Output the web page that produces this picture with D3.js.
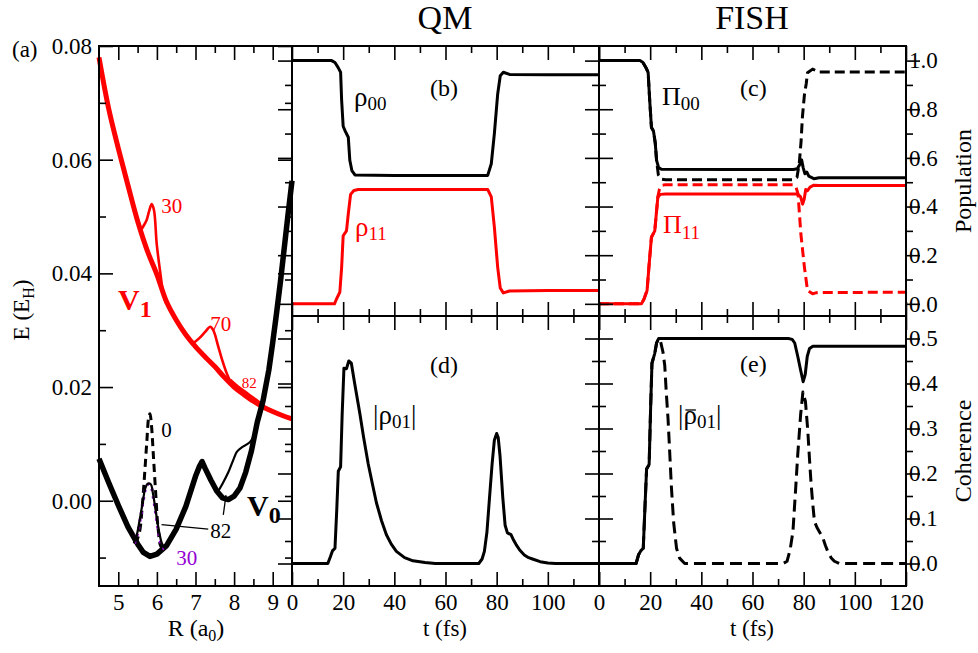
<!DOCTYPE html>
<html>
<head>
<meta charset="utf-8">
<script src="https://cdn.jsdelivr.net/npm/d3@7"></script>
</head>
<body style="margin:0;background:#fff">
<svg id="chart" width="978" height="653" style="display:block"></svg>
<script>
// ---- values ----
// panel (a): potential curves and wave packets, [R (a0), E (EH)]
const v1Curve = [[4.5,0.0780],[4.75,0.0690],[5.0,0.0620],[5.25,0.0555],[5.5,0.0492],[5.75,0.0440],[6.0,0.0398],
  [6.25,0.0350],[6.5,0.0318],[6.75,0.0292],[7.0,0.0271],[7.25,0.0253],[7.5,0.0236],[7.75,0.0217],[8.0,0.0200],
  [8.25,0.0187],[8.5,0.0175],[8.75,0.0165],[9.0,0.0157],[9.25,0.0150],[9.5,0.0144]];
const v0Curve = [[4.5,0.0074],[4.75,0.0032],[5.0,-0.0008],[5.25,-0.0046],[5.5,-0.0076],[5.65,-0.0091],[5.82,-0.0098],
  [6.0,-0.0094],[6.25,-0.0079],[6.5,-0.0050],[6.75,-0.0010],[7.0,0.0043],[7.1,0.0060],[7.17,0.0069],[7.25,0.0057],
  [7.4,0.0036],[7.55,0.0017],[7.7,0.0005],[7.85,0.0002],[8.0,0.0008],[8.15,0.0022],[8.3,0.0050],[8.45,0.0088],
  [8.6,0.0138],[8.75,0.0176],[8.9,0.0230],[9.0,0.0278],[9.1,0.0330],[9.2,0.0385],[9.3,0.0445],[9.4,0.0505],[9.5,0.0563]];
const packetV1t30 = [[5.56,0.0473],[5.64,0.0482],[5.735,0.0494],[5.80,0.0510],[5.865,0.0522],[5.925,0.0511],
  [5.995,0.0452],[6.08,0.0405],[6.166,0.0364],[6.23,0.0348]];
const packetV1t70 = [[6.94,0.0277],[7.10,0.0286],[7.25,0.0297],[7.38,0.0306],[7.46,0.0300],[7.59,0.0271],
  [7.68,0.0250],[7.81,0.0224],[7.91,0.0209]];
const packetV1t82 = [[7.90,0.0213],[8.1,0.0201],[8.3,0.0191],[8.5,0.0181],[8.7,0.0171]];
const packetV0t0 = [[5.45,-0.0076],[5.55,-0.0055],[5.62,-0.0010],[5.68,0.0045],[5.74,0.0105],[5.79,0.0148],
  [5.82,0.0153],[5.86,0.0132],[5.91,0.0078],[5.97,0.0012],[6.03,-0.0048],[6.10,-0.0080],[6.18,-0.0086]];
const packetV0t82a = [[5.40,-0.0075],[5.48,-0.0060],[5.55,-0.0035],[5.62,-0.0008],[5.70,0.0022],[5.76,0.0030],
  [5.84,0.0029],[5.90,0.0012],[5.97,-0.0018],[6.05,-0.0052],[6.13,-0.0075],[6.22,-0.0085]];
const packetV0t82b = [[7.58,0.0016],[7.70,0.0030],[7.85,0.0050],[7.98,0.0072],[8.07,0.0086],[8.20,0.0094],
  [8.33,0.0099],[8.42,0.0104],[8.50,0.0112]];
const packetV0t30 = [[5.42,-0.0075],[5.50,-0.0058],[5.58,-0.0028],[5.65,0.0002],[5.72,0.0024],[5.78,0.0029],
  [5.84,0.0027],[5.90,0.0008],[5.97,-0.0022],[6.04,-0.0055],[6.12,-0.0078],[6.20,-0.0086]];

// panel (b): QM populations, [t (fs), population]
const rho00 = [[0,1.0],[15.5,1.0],[16.8,0.992],[18,0.972],[19,0.952],[19.4,0.837],[20,0.73],[20.8,0.71],[22,0.685],
  [22.6,0.59],[23.4,0.548],[24.6,0.53],[40,0.528],[60,0.528],[76.5,0.528],[77.9,0.576],[79.1,0.70],[80.4,0.863],
  [81.4,0.938],[82.6,0.952],[85,0.943],[100,0.942],[120,0.942]];
const rho11 = [[0,0],[16.6,0],[17.4,0.02],[18.7,0.048],[19.4,0.15],[20,0.28],[21.3,0.30],[22,0.37],[22.9,0.45],
  [24.2,0.466],[25.9,0.47],[60,0.47],[76.5,0.47],[77.9,0.44],[79.1,0.315],[80.4,0.15],[81.4,0.065],[82.6,0.045],
  [85,0.053],[100,0.055],[120,0.055]];

// panel (c): FISH populations
const pi00 = [[0,1.0],[16,1.0],[17.2,0.992],[18.3,0.972],[19.2,0.952],[19.8,0.84],[20.5,0.725],[21.3,0.71],[22,0.66],
  [22.5,0.59],[23.3,0.56],[24.4,0.553],[50,0.552],[76,0.552],[77.5,0.555],[78.6,0.575],[79.2,0.592],[79.8,0.56],
  [80.5,0.535],[81.2,0.542],[82,0.525],[83,0.52],[84,0.514],[86,0.518],[120,0.518]];
const pi00Dash = [[0,1.0],[16,1.0],[17.2,0.992],[18.3,0.972],[19.2,0.952],[19.8,0.84],[20.5,0.725],[21.3,0.71],[22,0.66],
  [22.5,0.59],[23.2,0.53],[24.5,0.512],[26,0.51],[76,0.51],[77.4,0.52],[78.3,0.58],[79,0.67],[79.5,0.767],
  [80.3,0.86],[81,0.905],[81.5,0.95],[83.5,0.965],[86,0.953],[120,0.953]];
const pi11 = [[0,0],[16.6,0],[17.6,0.02],[18.8,0.055],[19.5,0.15],[20.5,0.274],[21.8,0.30],[22.4,0.37],[23,0.438],
  [24,0.45],[26,0.452],[77,0.452],[78,0.448],[78.8,0.44],[79.6,0.41],[80.2,0.43],[80.8,0.47],[81.5,0.465],
  [82.5,0.48],[84,0.488],[86,0.487],[120,0.487]];
const pi11Dash = [[0,0],[16.6,0],[17.6,0.02],[18.8,0.055],[19.5,0.15],[20.5,0.274],[21.8,0.30],[22.4,0.37],[23,0.44],
  [23.6,0.47],[24.5,0.487],[26,0.49],[76,0.49],[77,0.48],[77.8,0.452],[78.9,0.288],[80.3,0.15],[81.5,0.055],
  [83.5,0.041],[85,0.046],[120,0.048]];

// panel (d): QM coherence |rho01|
const absRho01 = [[0,0],[14,0],[15,0.015],[15.8,0.028],[16.8,0.034],[17.5,0.12],[18.1,0.205],[19,0.215],[19.6,0.33],
  [20.3,0.434],[21.3,0.433],[22.2,0.45],[23.2,0.445],[24.5,0.40],[26.5,0.334],[28,0.28],[29.8,0.221],[31.5,0.175],
  [33,0.135],[35,0.095],[36.9,0.064],[38.8,0.043],[40.8,0.027],[44,0.013],[47.3,0.006],[52,0.002],[56,0],[73,0],
  [74.3,0.01],[75.2,0.027],[76.2,0.07],[77.2,0.146],[78.2,0.22],[79.1,0.274],[80,0.289],[80.6,0.28],[81.3,0.24],
  [82.4,0.146],[83.3,0.085],[84.2,0.068],[85.6,0.064],[86.6,0.052],[87.6,0.042],[89,0.03],[90.8,0.019],[92.5,0.013],
  [94,0.01],[97,0.004],[100,0.001],[103,0],[120,0]];

// panel (e): FISH coherences
const fishCohSolid = [[0,0],[14.5,0],[15.5,0.02],[16.3,0.028],[17.3,0.034],[18,0.13],[18.6,0.21],[19.6,0.22],
  [20.2,0.35],[20.7,0.445],[21.8,0.467],[22.5,0.49],[23.3,0.5],[74,0.5],[75.5,0.498],[76.5,0.49],[77.7,0.46],
  [78.8,0.43],[79.8,0.404],[80.6,0.42],[81.4,0.46],[82.3,0.478],[83.6,0.483],[120,0.483]];
const fishCohDash = [[0,0],[14.5,0],[15.5,0.02],[16.3,0.028],[17.3,0.034],[18,0.13],[18.6,0.21],[19.6,0.22],
  [20.2,0.35],[20.7,0.445],[21.8,0.467],[22.5,0.49],[23.3,0.5],[24,0.495],[25,0.47],[25.7,0.44],[26.3,0.38],
  [27,0.32],[27.7,0.24],[28.3,0.17],[29.2,0.09],[30.3,0.034],[31.5,0.012],[33.5,0],[72,0],[73.5,0.005],[74.7,0.03],
  [75.8,0.071],[76.8,0.16],[77.7,0.243],[78.8,0.33],[79.7,0.381],[80.2,0.37],[80.7,0.36],[81.6,0.296],[82.3,0.23],
  [82.9,0.177],[83.6,0.13],[84.2,0.094],[85.2,0.08],[86.2,0.07],[87.5,0.057],[88.5,0.04],[89.4,0.027],[90.7,0.013],
  [92,0.005],[94,0],[120,0]];

// ticks
const rMajor = [5, 6, 7, 8, 9];
const rMinor = [5.5, 6.5, 7.5, 8.5];
const eMajor = [0, 0.02, 0.04, 0.06, 0.08];
const eMinor = [-0.01, 0.01, 0.03, 0.05, 0.07];
const tMajor = [0, 20, 40, 60, 80, 100, 120];
const tMinor = [10, 30, 50, 70, 90, 110];
const popMajor = [0, 0.2, 0.4, 0.6, 0.8, 1.0];
const popMinor = [0.1, 0.3, 0.5, 0.7, 0.9];
const cohMajor = [0, 0.1, 0.2, 0.3, 0.4, 0.5];
const cohMinor = [0.05, 0.15, 0.25, 0.35, 0.45];

// a single family name: the renderer here drops font lists
const FONT = 'Liberation Serif';
const svg = d3.select('#chart');
const RED = '#ff0000', PURPLE = '#9400d3';

// panel boxes
const L = 99, A = 292, B = 599, C = 906, T = 46, M = 316, BOT = 586;
const xR = d3.scaleLinear().domain([4.5, 9.5]).range([L, A]);
const yE = d3.scaleLinear().domain([-0.015, 0.08]).range([BOT, T]);
const xQM = d3.scaleLinear().domain([0, 120]).range([A, B]);
const xFS = d3.scaleLinear().domain([0, 120]).range([B, C]);
const yPop = d3.scaleLinear().domain([-0.05, 1.06]).range([M, T]);
const yCoh = d3.scaleLinear().domain([-0.05, 0.55]).range([BOT, M]);

function curve(data, xs, ys, color, width, dash, smooth) {
  svg.append('path').datum(data)
    .attr('fill', 'none').attr('stroke', color).attr('stroke-width', width)
    .attr('stroke-dasharray', dash || null)
    .attr('stroke-linejoin', 'round')
    .attr('d', d3.line().x(d => xs(d[0])).y(d => ys(d[1]))
      .curve(smooth ? d3.curveCatmullRom : d3.curveLinear));
}

function axis(gen, scale, x, y, major, minor, fmt, pad, outside) {
  const style = g => {
    g.select('.domain').remove();
    g.attr('font-family', FONT).attr('font-size', 23);
    g.selectAll('line').attr('stroke', '#000').attr('stroke-width', 1.6);
    g.selectAll('text').attr('fill', '#000');
  };
  svg.append('g').attr('transform', `translate(${x},${y})`)
    .call(gen(scale).tickValues(minor).tickSize(-7).tickFormat(''))
    .call(style);
  const g = svg.append('g').attr('transform', `translate(${x},${y})`)
    .call(gen(scale).tickValues(major).tickSize(-14).tickPadding(pad || 6).tickFormat(fmt || (() => '')))
    .call(style);
  if (outside) g.selectAll('text').attr('x', pad).attr('text-anchor', 'start');
}

// ---- panel (a) ----
curve(packetV1t30, xR, yE, RED, 2.6, null, true);
curve(packetV1t70, xR, yE, RED, 2.6, null, true);
curve(packetV1t82, xR, yE, RED, 2.6, null, true);
curve(v1Curve, xR, yE, RED, 5, null, true);
curve(v0Curve, xR, yE, '#000', 5.5, null, false);
curve(packetV0t82b, xR, yE, '#000', 2.2, null, true);
curve(packetV0t0, xR, yE, '#000', 3, '8,5', true);
curve(packetV0t30, xR, yE, PURPLE, 3, '2.5,5', true);
curve(packetV0t82a, xR, yE, '#000', 2.2, null, true);
// leader lines for the "82" label
svg.append('line').attr('x1', xR(6.12)).attr('y1', yE(-0.0042)).attr('x2', xR(7.33)).attr('y2', yE(-0.0050))
  .attr('stroke', '#000').attr('stroke-width', 1.3);
svg.append('line').attr('x1', xR(7.72)).attr('y1', yE(-0.0025)).attr('x2', xR(7.79)).attr('y2', yE(0.0010))
  .attr('stroke', '#000').attr('stroke-width', 1.3);

// ---- panels (b)-(e) ----
curve(rho11, xQM, yPop, RED, 3);
curve(rho00, xQM, yPop, '#000', 3);
curve(pi11, xFS, yPop, RED, 3);
curve(pi11Dash, xFS, yPop, RED, 3, '10,5');
curve(pi00, xFS, yPop, '#000', 3);
curve(pi00Dash, xFS, yPop, '#000', 3, '10,5');
curve(absRho01, xQM, yCoh, '#000', 3);
curve(fishCohSolid, xFS, yCoh, '#000', 3);
curve(fishCohDash, xFS, yCoh, '#000', 3, '12,6');

// ---- axes (all ticks point inward) ----
const f2 = d3.format('.2f'), f1 = d3.format('.1f');
axis(d3.axisLeft, yE, L, 0, eMajor, eMinor, f2, 7);
axis(d3.axisRight, yE, A, 0, eMajor, eMinor);
axis(d3.axisTop, xR, 0, T, rMajor, rMinor);
axis(d3.axisBottom, xR, 0, BOT, rMajor, rMinor, d => d, 8);

axis(d3.axisTop, xQM, 0, T, tMajor, tMinor);
axis(d3.axisBottom, xQM, 0, M, tMajor, tMinor);
axis(d3.axisTop, xQM, 0, M, tMajor, tMinor);
axis(d3.axisBottom, xQM, 0, BOT, tMajor, tMinor, d => d === 120 ? '' : d, 8);
axis(d3.axisTop, xFS, 0, T, tMajor, tMinor);
axis(d3.axisBottom, xFS, 0, M, tMajor, tMinor);
axis(d3.axisTop, xFS, 0, M, tMajor, tMinor);
axis(d3.axisBottom, xFS, 0, BOT, tMajor, tMinor, d => d, 8);

axis(d3.axisRight, yPop, A, 0, popMajor, popMinor);
axis(d3.axisLeft, yPop, B, 0, popMajor, popMinor);
axis(d3.axisRight, yPop, B, 0, popMajor, popMinor);
axis(d3.axisLeft, yPop, C, 0, popMajor, popMinor, f1, 3, true);
axis(d3.axisRight, yCoh, A, 0, cohMajor, cohMinor);
axis(d3.axisLeft, yCoh, B, 0, cohMajor, cohMinor);
axis(d3.axisRight, yCoh, B, 0, cohMajor, cohMinor);
axis(d3.axisLeft, yCoh, C, 0, cohMajor, cohMinor, f1, 3, true);

// frames
[[L, T, A - L, BOT - T], [A, T, B - A, M - T], [A, M, B - A, BOT - M], [B, T, C - B, M - T], [B, M, C - B, BOT - M]]
  .forEach(r => svg.append('rect').attr('x', r[0]).attr('y', r[1]).attr('width', r[2]).attr('height', r[3])
    .attr('fill', 'none').attr('stroke', '#000').attr('stroke-width', 2));

// ---- text ----
function label(x, y, parts, opts) {
  opts = opts || {};
  const t = svg.append('text').attr('x', x).attr('y', y)
    .attr('font-family', FONT)
    .attr('fill', opts.color || '#000')
    .attr('font-size', opts.size || 24)
    .attr('font-weight', opts.weight || null)
    .attr('text-anchor', opts.anchor || 'start')
    .attr('transform', opts.rotate ? `rotate(-90,${x},${y})` : null);
  parts.forEach(p => {
    const s = t.append('tspan').text(p[0]);
    if (p[1]) s.attr('font-size', p[1]);
    if (p[2]) s.attr('dy', p[2]);
  });
  return t;
}

label(445, 29, [['QM']], { size: 34, anchor: 'middle' });
label(752, 29, [['FISH']], { size: 34, anchor: 'middle' });
label(12, 57, [['(a)']], { size: 23 });
label(29, 310, [['E (E'], ['H', 16, 5], [')', null, -5]], { size: 23, anchor: 'middle', rotate: true });
label(196, 636, [['R (a'], ['0', 16, 5], [')', null, -5]], { size: 24, anchor: 'middle' });
label(445, 636, [['t (fs)']], { size: 23, anchor: 'middle' });
label(752, 636, [['t (fs)']], { size: 23, anchor: 'middle' });
label(971, 181, [['Population']], { size: 24, anchor: 'middle', rotate: true });
label(971, 451, [['Coherence']], { size: 24, anchor: 'middle', rotate: true });

// panel (a) annotations
label(xR(6.11), 213, [['30']], { size: 21, color: RED });
label(xR(7.38), 331, [['70']], { size: 21, color: RED });
label(xR(8.2), 388, [['82']], { size: 15, color: RED });
label(118, 310, [['V', 30], ['1', 24, 7]], { color: RED, weight: 'bold' });
label(xR(6.11), 437, [['0']], { size: 21 });
label(xR(7.38), 538, [['82']], { size: 21 });
label(xR(6.5), 565, [['30']], { size: 21, color: PURPLE });
label(247, 516, [['V', 30], ['0', 24, 7]], { weight: 'bold' });

// panels (b)-(e) annotations
label(354, 106, [['ρ', 27], ['00', 19, 4]]);
label(430, 96, [['(b)']]);
label(355, 236, [['ρ', 27], ['11', 19, 4]], { color: RED });
label(662, 105, [['Π', 26], ['00', 19, 5]]);
label(740, 96, [['(c)']]);
label(663, 233, [['Π', 26], ['11', 19, 6]], { color: RED });
label(373, 424, [['|ρ', 27], ['01', 19, 4], ['|', 27, -4]]);
label(430, 373, [['(d)']]);
const rb = label(678, 424, [['|ρ', 27], ['01', 19, 4], ['|', 27, -4]]);
label(740, 372, [['(e)']]);

svg.selectAll('text').style('font-family', FONT);

// bar over the rho of the FISH coherence label
const rn = rb.node();
const r0 = rn.getStartPositionOfChar(1), r1 = rn.getEndPositionOfChar(1);
svg.append('line').attr('x1', r0.x + 2).attr('x2', r1.x - 1).attr('y1', 424 - 14).attr('y2', 424 - 14)
  .attr('stroke', '#000').attr('stroke-width', 1.3);
</script>
</body>
</html>
